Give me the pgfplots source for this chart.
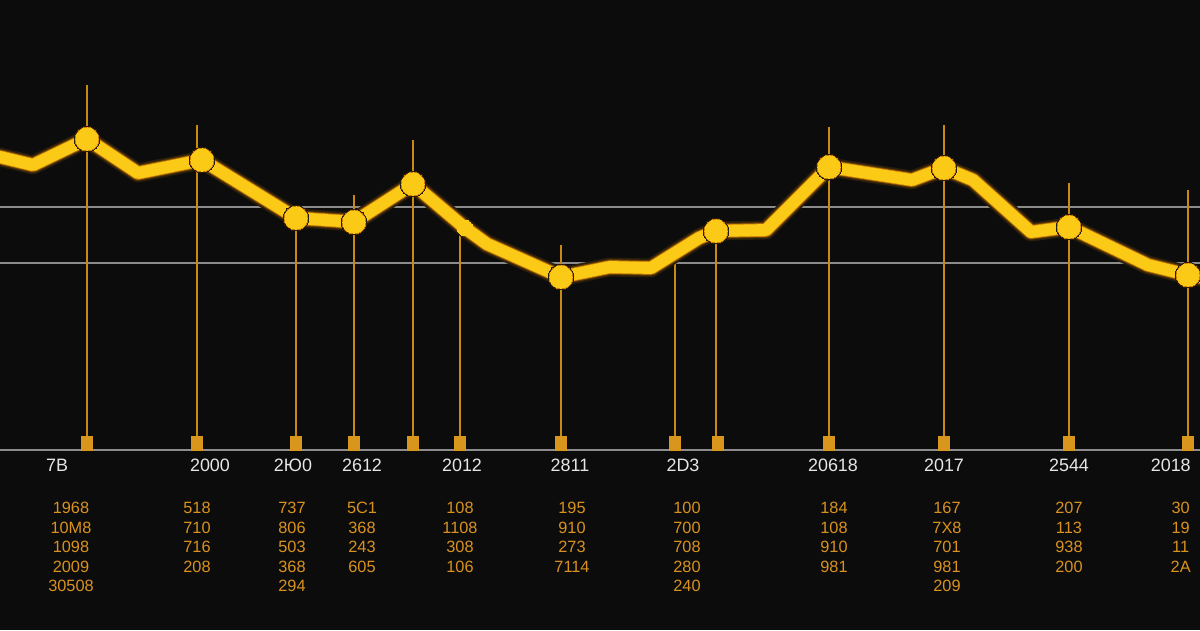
\documentclass[border=0pt]{standalone}
\usepackage{pgfplots}
\pgfplotsset{compat=1.18}
\usepackage{pgfplotstable}
\usepackage{fontspec}
\setmainfont{Liberation Sans}
\definecolor{bg}{HTML}{0C0C0C}
\definecolor{lineY}{HTML}{FACA16}
\definecolor{glow}{HTML}{FF9A00}
\definecolor{stem}{HTML}{C98A12}
\definecolor{sq}{HTML}{D9961C}
\definecolor{gridc}{HTML}{8C8C8C}
\definecolor{lab}{HTML}{E6E6E6}
\definecolor{olab}{HTML}{D9921E}
\colorlet{glowA}{glow!12!bg}
\colorlet{glowB}{glow!35!bg}
\colorlet{glowC}{glow!80!bg}

\pgfplotstableread{
x y
0 293
33 285
87 311
138 277
202 290
296 232
354 228
413 266
465 222
487 206
561 173
610 183
651 182
699 212
716 219
766 220
829 283
912 270
944 282
973 270
1031 218
1069 223
1148 185
1188 175
1200 173
}\linedata

\pgfplotstableread{
x y
87 311
202 290
296 232
354 228
413 266
561 173
716 219
829 283
944 282
1069 223
1188 175
}\markdata

\pgfplotstableread{
x y
87 365
197 325
296 232
354 255
413 310
460 230
561 205
675 195
716 225
829 323
944 325
1069 267
1188 260
}\stemdata

\pgfplotstableread{
x y
87 6.5
197 6.5
296 6.5
354 6.5
413 6.5
460 6.5
561 6.5
675 6.5
718 6.5
829 6.5
944 6.5
1069 6.5
1188 6.5
}\sqdata

\begin{document}
\begin{tikzpicture}
\begin{axis}[
  name=ax,
  scale only axis,
  width=16cm, height=8.4cm,
  xmin=0, xmax=1200, ymin=-180, ymax=450,
  axis line style={draw=none},
  ticks=none,
  axis background/.style={fill=bg},
  clip=true,
]
% horizontal gray lines
\addplot[color=gridc, line width=0.6pt, forget plot] coordinates {(0,243) (1200,243)};
\addplot[color=gridc, line width=0.6pt, forget plot] coordinates {(0,187) (1200,187)};
\addplot[color=gridc, line width=0.8pt, forget plot] coordinates {(0,0) (1200,0)};
% stems
\addplot[ycomb, color=stem, line width=0.5pt, mark=none] table[x=x,y=y]{\stemdata};
% squares
\addplot[only marks, mark=square*, mark size=1.9pt, mark options={fill=sq, draw=sq, yscale=1.3}] table[x=x,y=y]{\sqdata};
% glow (solid pre-mixed colours)
\addplot[color=glowA, line width=7.2pt, line join=round, line cap=round] table[x=x,y=y]{\linedata};
\addplot[color=glowB, line width=5.9pt, line join=round, line cap=round] table[x=x,y=y]{\linedata};
\addplot[color=glowC, line width=5.1pt, line join=round, line cap=round] table[x=x,y=y]{\linedata};
\addplot[only marks, mark=*, mark size=4.9pt, mark options={fill=glowA, draw=glowA, line width=0pt}] table[x=x,y=y]{\markdata};
\addplot[only marks, mark=*, mark size=4.5pt, mark options={fill=glowC, draw=glowC, line width=0pt}] table[x=x,y=y]{\markdata};
% main line
\addplot[color=lineY, line width=4.5pt, line join=round, line cap=round] table[x=x,y=y]{\linedata};
\addplot[only marks, mark=*, mark size=4.2pt, mark options={fill=lineY, draw=lineY, line width=0pt}] table[x=x,y=y]{\markdata};
\addplot[only marks, mark=*, mark size=3.0pt, mark options={fill=lineY, draw=lineY, line width=0pt}] coordinates {(465,222)};
% white labels
\tikzset{wl/.style={text=lab, font=\fontsize{6.8}{7}\selectfont, anchor=center},
         ol/.style={text=olab, font=\fontsize{6.2}{7.4}\selectfont, anchor=north, align=center}}
\node[wl] at (axis cs:57,-15) {7B};
\node[wl] at (axis cs:210,-15) {2000};
\node[wl] at (axis cs:293,-15) {2Ю0};
\node[wl] at (axis cs:362,-15) {2612};
\node[wl] at (axis cs:462,-15) {2012};
\node[wl] at (axis cs:570,-15) {2811};
\node[wl] at (axis cs:683,-15) {2D3};
\node[wl] at (axis cs:833,-15) {20618};
\node[wl] at (axis cs:944,-15) {2017};
\node[wl] at (axis cs:1069,-15) {2544};
\node[wl, anchor=east] at (axis cs:1200,-15) {2018};
% orange columns
\node[ol] at (axis cs:71,-43) {1968\\10M8\\1098\\2009\\30508};
\node[ol] at (axis cs:197,-43) {518\\710\\716\\208};
\node[ol] at (axis cs:292,-43) {737\\806\\503\\368\\294};
\node[ol] at (axis cs:362,-43) {5C1\\368\\243\\605};
\node[ol] at (axis cs:460,-43) {108\\1108\\308\\106};
\node[ol] at (axis cs:572,-43) {195\\910\\273\\7114};
\node[ol] at (axis cs:687,-43) {100\\700\\708\\280\\240};
\node[ol] at (axis cs:834,-43) {184\\108\\910\\981};
\node[ol] at (axis cs:947,-43) {167\\7X8\\701\\981\\209};
\node[ol] at (axis cs:1069,-43) {207\\113\\938\\200};
\node[ol, anchor=north east] at (axis cs:1200,-43) {30\\19\\11\\2A};
\end{axis}
\pgfresetboundingbox
\path (ax.south west) rectangle (ax.north east);
\end{tikzpicture}
\end{document}
